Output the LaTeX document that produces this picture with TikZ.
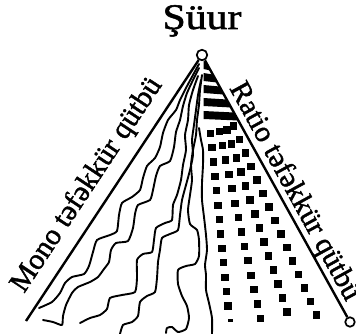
\documentclass[tikz,border=0pt]{standalone}
\usepackage{fontspec}
\setmainfont{Liberation Serif}
\newfontfamily\lblfont[FakeBold=1.4]{Liberation Serif}
\usetikzlibrary{calc}
\begin{document}
\begin{tikzpicture}[x=1pt,y=-1pt,
  edge/.style={line width=2.4pt},
  wig/.style={line width=1.9pt, line join=round, line cap=round},
  ring/.style={circle, draw, line width=1.7pt, inner sep=0pt, fill=white},
  lbl/.style={font=\lblfont\fontsize{29.5}{29.5}\selectfont, inner sep=0pt},
  ttl/.style={font=\lblfont\fontsize{36}{36}\selectfont, inner sep=0pt}]
\useasboundingbox (0,0) rectangle (356,334);
\fill[white] (0,0) rectangle (356,334);
% title
\node[ttl, anchor=base] (title) at (202,29) {\scalebox{1.16}[1]{Şüur}};
% wiggly lines
\draw[wig] plot[smooth, tension=0.35] coordinates {(39,308) (52,302) (60,293) (65,283) (72,277) (84,274) (89,266) (93,252) (97,240) (110,235) (117,231) (119,215) (122,203) (132,197) (140,190) (143,178) (147,166) (155,158) (160,147) (163,133) (168,120) (176,110) (180,100) (186,88) (193,75) (199,64)};
\draw[wig] plot[smooth, tension=0.35] coordinates {(43,320) (53,322) (62,325) (63,316) (66,305) (72,293) (78,287) (90,282) (98,277) (104,269) (109,262) (111,250) (116,243) (128,241) (133,228) (135,214) (138,205) (150,200) (153,190) (156,176) (160,166) (170,161) (174,147) (176,132) (180,120) (183,106) (187,93) (193,80) (199,68)};
\draw[wig] plot[smooth, tension=0.35] coordinates {(80,323) (90,318) (100,315) (107,309) (110,298) (122,295) (135,292) (137,278) (137,260) (143,254) (152,252) (154,240) (156,228) (165,223) (172,220) (173,205) (177,195) (181,180) (183,165) (186,150) (185,135) (188,120) (189,105) (193,90) (198,76)};
\draw[wig] plot[smooth, tension=0.35] coordinates {(120,334) (123,325) (132,322) (138,316) (140,302) (147,296) (155,292) (157,278) (158,262) (160,250) (162,238) (170,234) (178,230) (180,215) (182,200) (186,185) (190,170) (193,155) (192,140) (194,125) (196,110) (198,95) (201,80)};
\draw[wig] plot[smooth, tension=0.35] coordinates {(166,333) (167,328) (172,327) (178,332) (186,329) (189,318) (187,306) (182,296) (178,284) (178,270) (186,266) (195,264) (199,256) (199,240) (197,230) (190,224) (188,210) (190,195) (192,180) (191,165) (193,150) (196,135) (197,120) (199,105) (200,90) (202,75)};
\draw[wig] plot[smooth, tension=0.35] coordinates {(212,334) (212,318) (209,303) (206,290) (206,275) (205,265) (207,250) (206,235) (204,217) (202,200) (202,183) (203,165) (203,150) (201,140) (199,128)};
% bars near apex
\foreach \y in {65,77,89,102,115} {
  \pgfmathsetmacro\ya{\y-4}
  \pgfmathsetmacro\yb{\y+4}
  \pgfmathsetmacro\xa{202+0.554*(\ya+1.5-55)}
  \pgfmathsetmacro\xb{202+0.554*(\yb+1.5-55)}
  \fill (203.5,\ya) -- (\xa,\ya+1.5) -- (\xb,\yb+1.5) -- (203.5,\yb) -- cycle;
}
% square dots along rays
\foreach \t/\y/\s/\n in {0.10/162/14.4/10, 0.22/160/14.4/11, 0.33/158/14/11, 0.44/153/13.5/12} {
  \foreach \k in {-2,...,\n} {
    \pgfmathsetmacro\yy{\y+\s*\k}
    \pgfmathsetmacro\xx{203+\t*(\yy-57)}
    \fill (\xx-3.7,\yy-3.6) rectangle +(7.4,7.2);
  }
}
\fill (228,319) rectangle +(5,2.5);
% frame lines and rings
\node[ring, minimum size=10.5pt] (apex) at (202,55) {};
\node[ring, minimum size=9.5pt] (rend) at (350,322) {};
\coordinate (lend) at (26,321);
\draw[edge] (apex) -- (lend);
\draw[edge] (apex) -- (rend);
% side labels
\node[lbl, rotate=56.5, anchor=base west] (mono) at (24,294) {Mono təfəkkür qütbü};
\node[lbl, rotate=-61.3, anchor=base west] (ratio) at (229,88) {Ratio təfəkkür qütbü};
\end{tikzpicture}
\end{document}
